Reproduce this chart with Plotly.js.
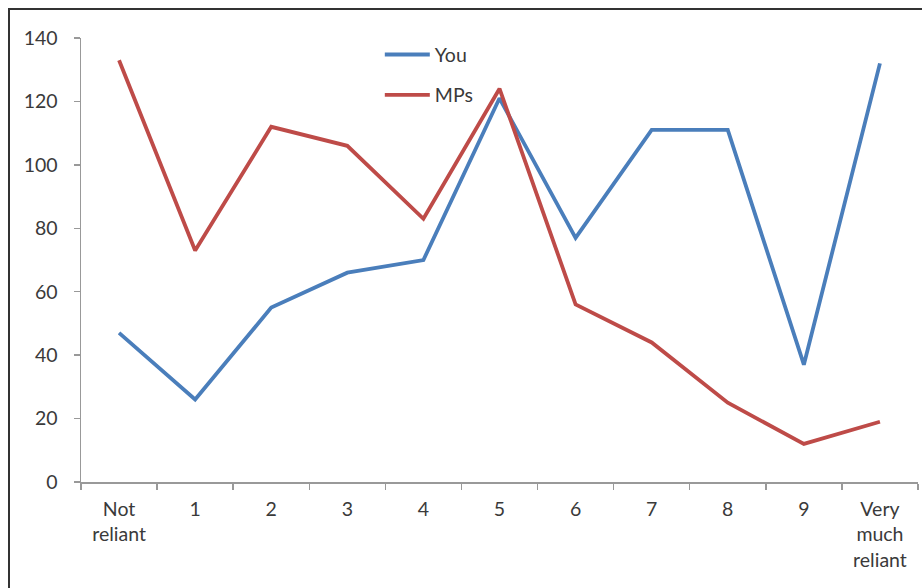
<!DOCTYPE html>
<html>
<head>
<meta charset="utf-8">
<script src="https://cdn.plot.ly/plotly-3.0.1.min.js"></script>
<style>
  html, body { margin: 0; padding: 0; background: #fff; }
  #wrap { position: relative; width: 922px; height: 588px; }
  #chart { width: 922px; height: 588px; }
  #frame { position: absolute; left: 8px; top: 8px; right: -4px; bottom: -4px;
           border-left: 2px solid #333; border-top: 2px solid #333; pointer-events: none; }
</style>
</head>
<body>
<div id="wrap">
  <div id="chart"></div>
  <div id="frame"></div>
</div>
<script>
const categories = ["Not<br>reliant", "1", "2", "3", "4", "5", "6", "7", "8", "9", "Very<br>much<br>reliant"];
const youValues = [47, 26, 55, 66, 70, 121, 77, 111, 111, 37, 132];
const mpsValues = [133, 73, 112, 106, 83, 124, 56, 44, 25, 12, 19];
const yTicks = [0, 20, 40, 60, 80, 100, 120, 140];

const font = { family: "Lato, 'Open Sans', sans-serif", size: 19.5, color: "#3a3a3a" };

const traces = [
  { x: categories, y: youValues, name: "You", type: "scatter", mode: "lines",
    line: { color: "#4a7ebb", width: 3.8 }, legendgroup: "a" },
  { x: categories, y: mpsValues, name: "MPs", type: "scatter", mode: "lines",
    line: { color: "#be4b48", width: 3.8 }, legendgroup: "b" }
];

const layout = {
  width: 922, height: 588,
  margin: { l: 81, r: 4, t: 38, b: 106 },
  paper_bgcolor: "#fff", plot_bgcolor: "#fff",
  font: font,
  showlegend: true,
  legend: { x: 0.357, y: 1.006, xanchor: "left", yanchor: "top",
            bgcolor: "rgba(0,0,0,0)", font: font, itemwidth: 45,
            traceorder: "grouped", tracegroupgap: 12 },
  xaxis: {
    type: "category", showgrid: false, zeroline: false,
    showline: true, linecolor: "#999", linewidth: 1.5,
    ticks: "outside", ticklen: 6, tickcolor: "#999", tickwidth: 1.5,
    tickson: "boundaries", ticklabelstandoff: 9,
    range: [-0.5, 10.5], tickfont: font
  },
  yaxis: {
    range: [0, 140], tickvals: yTicks, showgrid: false, zeroline: false,
    showline: true, linecolor: "#999", linewidth: 1.5,
    ticks: "outside", ticklen: 6, tickcolor: "#999", tickwidth: 1.5,
    ticklabelstandoff: 12, tickfont: font
  }
};

Plotly.newPlot("chart", traces, layout, { displayModeBar: false, staticPlot: true });
</script>
</body>
</html>
